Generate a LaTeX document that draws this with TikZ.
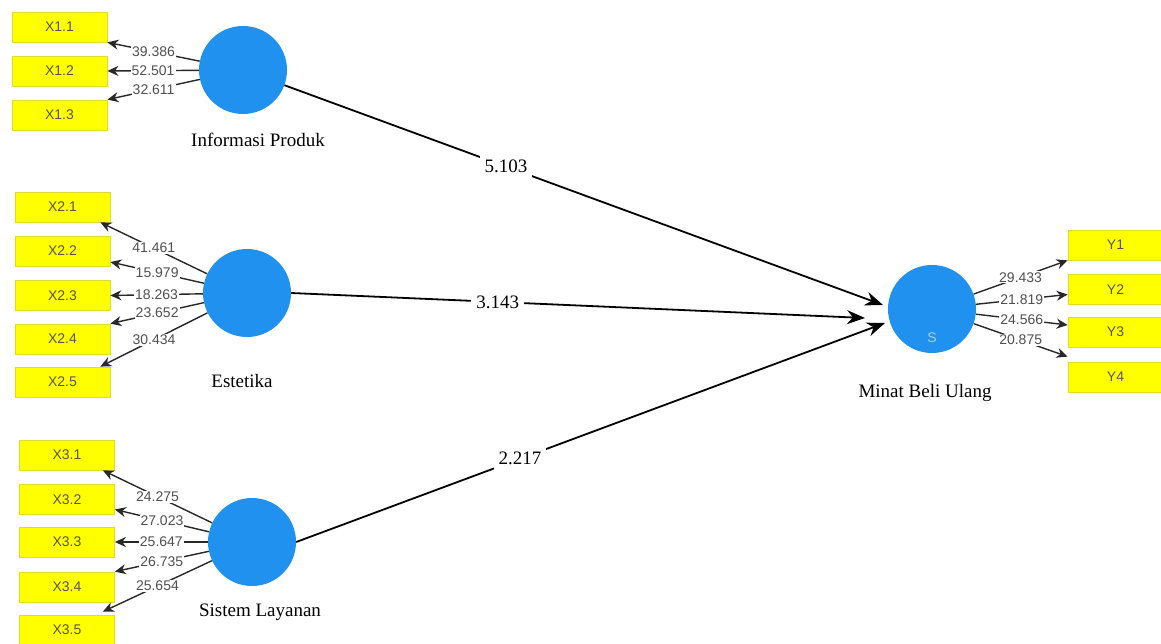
\documentclass[tikz,border=0pt]{standalone}
\usepackage{fontspec}
\setmainfont{Liberation Serif}
\newfontfamily\sansf{Liberation Sans}
\usetikzlibrary{arrows.meta}
\definecolor{yel}{RGB}{255,255,0}
\definecolor{ybord}{RGB}{225,220,40}
\definecolor{boxtxt}{RGB}{85,85,70}
\definecolor{lvblue}{RGB}{33,145,240}
\definecolor{numgray}{RGB}{80,80,80}
\definecolor{arrgray}{RGB}{40,40,40}
\definecolor{sblue}{RGB}{160,210,255}
\tikzset{
  indbox/.style={draw=ybord, line width=0.8pt, fill=yel, minimum width=95pt, minimum height=30pt, inner sep=0pt, font=\sansf\fontsize{14}{14}\selectfont, text=boxtxt},
  lv/.style={circle, fill=lvblue, minimum size=88pt, inner sep=0pt},
  loadarrow/.style={draw=arrgray, line width=1.4pt, -{Stealth[length=11pt,width=10pt]}},
  numlbl/.style={fill=white, inner sep=1pt, font=\sansf\fontsize{14}{14}\selectfont, text=numgray},
  structarrow/.style={draw=black, line width=1.8pt, -{Stealth[length=18pt,width=14pt]}},
  pathlbl/.style={fill=white, inner sep=5pt, font=\fontsize{19}{19}\selectfont, text=black},
  lvname/.style={font=\fontsize{19}{19}\selectfont, text=black}
}
\begin{document}
\begin{tikzpicture}[x=1pt,y=-1pt]
\useasboundingbox (0,0) rectangle (1161,644);
\fill[white] (0,0) rectangle (1161,644);

% latent variables
\node[lv] (c1) at (243,70) {};
\node[lv] (c2) at (247,293) {};
\node[lv] (c3) at (252,542) {};
\node[lv] (c4) at (932,309) {};
\node[font=\sansf\fontsize{14}{14}\selectfont, text=sblue] (s4) at (932,338) {S};

\node[lvname] (n1) at (258,140) {Informasi Produk};
\node[lvname] (n2) at (242,381) {Estetika};
\node[lvname] (n3) at (260,612) {Sistem Layanan};
\node[lvname] (n4) at (925,393) {Minat Beli Ulang};

% indicators
\node[indbox] (x11) at (59.5,27) {X1.1};
\node[indbox] (x12) at (59.5,71) {X1.2};
\node[indbox] (x13) at (59.5,115) {X1.3};

\node[indbox] (x21) at (62.5,207) {X2.1};
\node[indbox] (x22) at (62.5,251) {X2.2};
\node[indbox] (x23) at (62.5,295.5) {X2.3};
\node[indbox] (x24) at (62.5,339) {X2.4};
\node[indbox] (x25) at (62.5,382) {X2.5};

\node[indbox] (x31) at (67,455) {X3.1};
\node[indbox] (x32) at (67,499.5) {X3.2};
\node[indbox] (x33) at (67,542) {X3.3};
\node[indbox] (x34) at (67,587) {X3.4};
\node[indbox] (x35) at (67,630) {X3.5};

\node[indbox] (y1) at (1115.5,245) {Y1};
\node[indbox] (y2) at (1115.5,289.5) {Y2};
\node[indbox] (y3) at (1115.5,332) {Y3};
\node[indbox] (y4) at (1115.5,377) {Y4};

% loadings group 1
\draw[loadarrow] (c1) -- node[numlbl]{39.386} (x11.south east);
\draw[loadarrow] (c1) -- node[numlbl]{52.501} (x12.east);
\draw[loadarrow] (c1) -- node[numlbl]{32.611} (x13.north east);

% loadings group 2
\draw[loadarrow] (c2) -- node[numlbl]{41.461} ([xshift=-10pt]x21.south east);
\draw[loadarrow] (c2) -- node[numlbl]{15.979} ([yshift=-11pt]x22.east);
\draw[loadarrow] (c2) -- node[numlbl]{18.263} (x23.east);
\draw[loadarrow] (c2) -- node[numlbl]{23.652} (x24.north east);
\draw[loadarrow] (c2) -- node[numlbl]{30.434} ([xshift=-10pt]x25.north east);

% loadings group 3
\draw[loadarrow] (c3) -- node[numlbl]{24.275} ([xshift=-12pt]x31.south east);
\draw[loadarrow] (c3) -- node[numlbl]{27.023} ([yshift=-10pt]x32.east);
\draw[loadarrow] (c3) -- node[numlbl]{25.647} (x33.east);
\draw[loadarrow] (c3) -- node[numlbl]{26.735} (x34.north east);
\draw[loadarrow] (c3) -- node[numlbl]{25.654} ([xshift=-12pt,yshift=3pt]x35.north east);

% loadings Y
\draw[loadarrow] (c4) -- node[numlbl]{29.433} (y1.south west);
\draw[loadarrow] (c4) -- node[numlbl]{21.819} ([yshift=-5pt]y2.west);
\draw[loadarrow] (c4) -- node[numlbl]{24.566} ([yshift=7pt]y3.west);
\draw[loadarrow] (c4) -- node[numlbl]{20.875} ([yshift=5pt]y4.north west);

% structural paths
\coordinate (t1) at (883,305);
\coordinate (t2) at (865,318);
\coordinate (t3) at (885,323);
\draw[structarrow] (c1) -- node[pathlbl, pos=0.37]{5.103} (t1);
\draw[structarrow] (c2.east) -- node[pathlbl, pos=0.36]{3.143} (t2);
\draw[structarrow] (c3.east) -- node[pathlbl, pos=0.38]{2.217} (t3);
\end{tikzpicture}
\end{document}
